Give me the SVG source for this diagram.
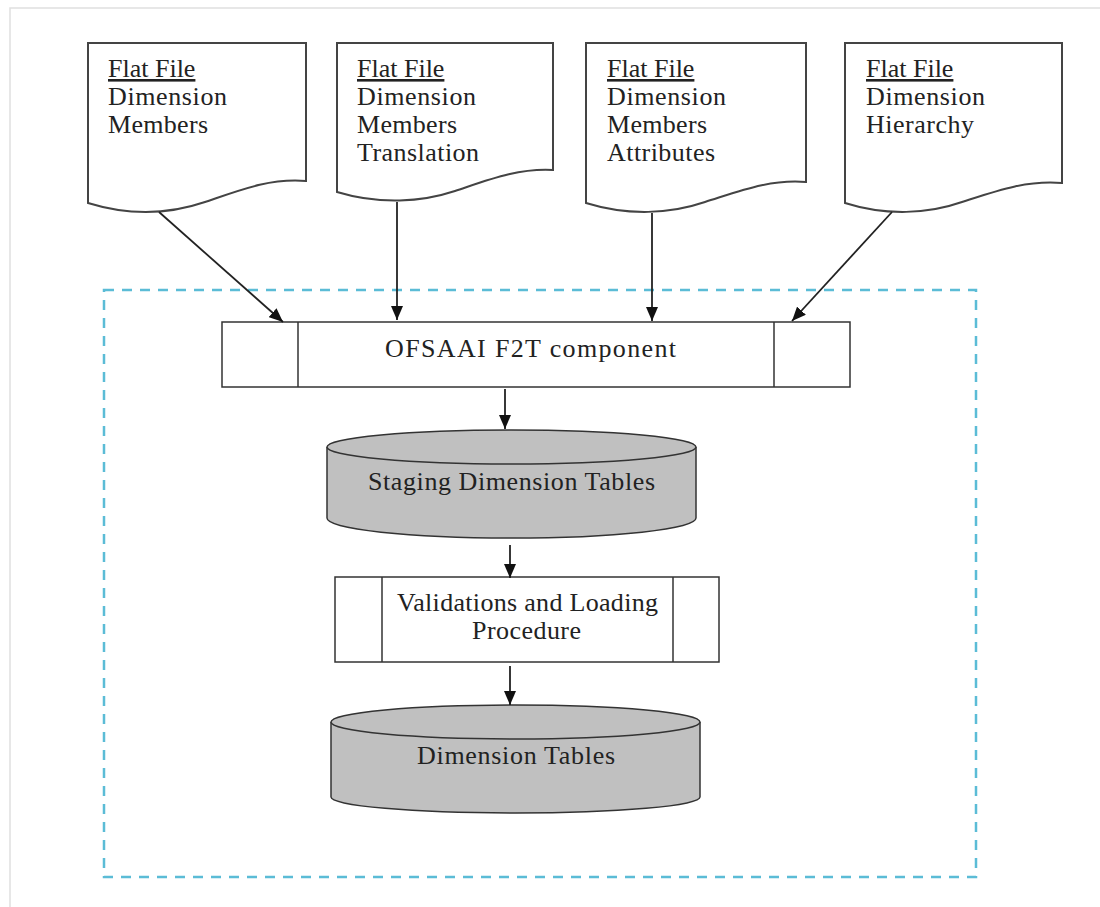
<svg xmlns="http://www.w3.org/2000/svg" width="1100" height="907" viewBox="0 0 1100 907">
<style>
.doc{fill:#fff;stroke:#444;stroke-width:2}
.box{fill:#fff;stroke:#333;stroke-width:1.5}
.cyl{fill:#c0c0c0;stroke:#333;stroke-width:1.5}
.t{font-family:"Liberation Serif","Times New Roman","DejaVu Serif",serif;font-size:26px;fill:#222}
.u{text-decoration:underline}
.conn{stroke:#222;stroke-width:1.8;fill:none;marker-end:url(#ah)}
</style>
<defs>
<marker id="ah" viewBox="0 0 14 12" refX="14" refY="6" markerWidth="14" markerHeight="12" markerUnits="userSpaceOnUse" orient="auto">
<path d="M0,0 L14,6 L0,12 z" fill="#111"/>
</marker>
</defs>
<rect width="1100" height="907" fill="#fff"/>
<path d="M10,907 L10,8 L1100,8" fill="none" stroke="#e0e0e0" stroke-width="1.5"/>
<rect id="boundary" x="104" y="290" width="872" height="587" fill="none" stroke="#5bbcd6" stroke-width="2.5" stroke-dasharray="10,8"/>

<g id="doc1">
<path class="doc" d="M88,43 L306,43 L306,181 C270,178 240,190 205,202 C170,214 130,216 88,203 Z"/>
<text class="t u" x="108" y="77">Flat File</text>
<text class="t" x="108" y="105" textLength="119" lengthAdjust="spacing">Dimension</text>
<text class="t" x="108" y="133" textLength="100" lengthAdjust="spacing">Members</text>
</g>
<g id="doc2">
<path class="doc" d="M337,43 L553,43 L553,170 C518,168 488,180 455,191 C422,202 380,205 337,192 Z"/>
<text class="t u" x="357" y="77">Flat File</text>
<text class="t" x="357" y="105" textLength="119" lengthAdjust="spacing">Dimension</text>
<text class="t" x="357" y="133" textLength="100" lengthAdjust="spacing">Members</text>
<text class="t" x="357" y="161" textLength="122" lengthAdjust="spacing">Translation</text>
</g>
<g id="doc3">
<path class="doc" d="M586,43 L806,43 L806,182 C770,179 740,191 705,202 C670,214 628,216 586,203 Z"/>
<text class="t u" x="607" y="77">Flat File</text>
<text class="t" x="607" y="105" textLength="119" lengthAdjust="spacing">Dimension</text>
<text class="t" x="607" y="133" textLength="100" lengthAdjust="spacing">Members</text>
<text class="t" x="607" y="161" textLength="108" lengthAdjust="spacing">Attributes</text>
</g>
<g id="doc4">
<path class="doc" d="M845,43 L1062,43 L1062,183 C1026,180 996,191 962,202 C928,214 886,216 845,203 Z"/>
<text class="t u" x="866" y="77">Flat File</text>
<text class="t" x="866" y="105" textLength="119" lengthAdjust="spacing">Dimension</text>
<text class="t" x="866" y="133" textLength="108" lengthAdjust="spacing">Hierarchy</text>
</g>

<g id="f2t">
<rect class="box" x="222" y="322" width="628" height="65"/>
<line class="box" x1="298" y1="322" x2="298" y2="387"/>
<line class="box" x1="774" y1="322" x2="774" y2="387"/>
<text class="t" x="385" y="357" textLength="291" lengthAdjust="spacing">OFSAAI F2T component</text>
</g>

<g id="staging">
<path class="cyl" d="M327,447 L327,518 A184.5,20 0 0 0 696,518 L696,447"/>
<ellipse class="cyl" cx="511.5" cy="447" rx="184.5" ry="17"/>
<text class="t" x="368" y="490" textLength="287" lengthAdjust="spacing">Staging Dimension Tables</text>
</g>

<g id="validation">
<rect class="box" x="335" y="577" width="384" height="85"/>
<line class="box" x1="382" y1="577" x2="382" y2="662"/>
<line class="box" x1="673" y1="577" x2="673" y2="662"/>
<text class="t" x="397" y="611" textLength="261" lengthAdjust="spacing">Validations and Loading</text>
<text class="t" x="472" y="639" textLength="109" lengthAdjust="spacing">Procedure</text>
</g>

<g id="dimtables">
<path class="cyl" d="M331,722 L331,797 A184.5,16 0 0 0 700,797 L700,722"/>
<ellipse class="cyl" cx="515.5" cy="722" rx="184.5" ry="17"/>
<text class="t" x="417" y="764" textLength="198" lengthAdjust="spacing">Dimension Tables</text>
</g>

<g id="connectors">
<line class="conn" x1="159" y1="212" x2="283" y2="322"/>
<line class="conn" x1="397" y1="202" x2="397" y2="320"/>
<line class="conn" x1="652" y1="213" x2="652" y2="321"/>
<line class="conn" x1="892" y1="212" x2="792" y2="321"/>
<line class="conn" x1="505" y1="389" x2="505" y2="429"/>
<line class="conn" x1="510" y1="545" x2="510" y2="578"/>
<line class="conn" x1="510" y1="666" x2="510" y2="705"/>
</g>
</svg>
